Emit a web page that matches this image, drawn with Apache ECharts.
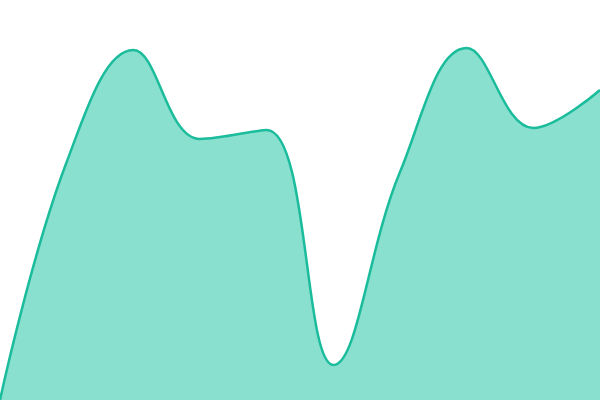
<!DOCTYPE html>
<html>
<head>
<meta charset="utf-8">
<script src="https://cdn.jsdelivr.net/npm/echarts@6/dist/echarts.min.js"></script>
<style>html,body{margin:0;padding:0;background:#fff}#c{width:600px;height:400px}</style>
</head>
<body>
<div id="c"></div>
<script>
var categories = ['1','2','3','4','5','6','7','8','9','10'];
var values = [0, 238, 350, 261, 270, 35, 228, 352, 272, 310];
var chart = echarts.init(document.getElementById('c'));
chart.setOption({
  animation: false,
  grid: {left: 0, right: 0, top: 0, bottom: 0},
  xAxis: {type: 'category', data: categories, boundaryGap: false, show: false},
  yAxis: {type: 'value', min: 0, max: 400, show: false},
  series: [{
    type: 'line',
    data: values,
    smooth: 0.4,
    symbol: 'none',
    lineStyle: {color: '#1abc9c', width: 2.5},
    areaStyle: {color: '#8ae0cf', opacity: 1}
  }]
});
</script>
</body>
</html>
